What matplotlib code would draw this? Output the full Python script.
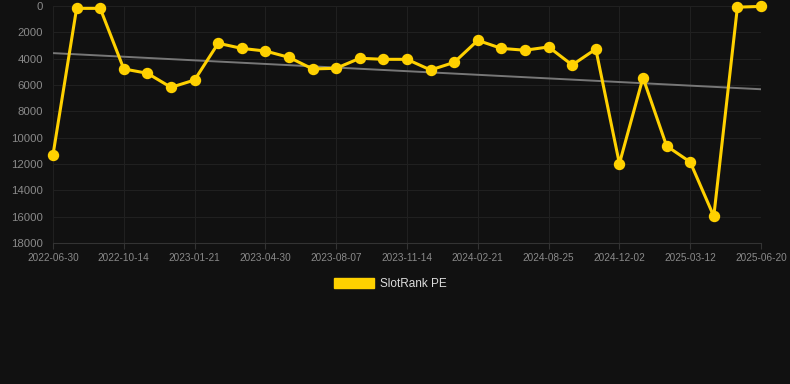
import numpy as np
import matplotlib
matplotlib.use("Agg")
import matplotlib.pyplot as plt
from matplotlib.patches import Patch

# rank values (lower is better, axis is reversed)
dates = ["2022-06-30", "", "", "2022-10-14", "", "", "2023-01-21", "", "",
         "2023-04-30", "", "", "2023-08-07", "", "", "2023-11-14", "", "",
         "2024-02-21", "", "", "2024-08-25", "", "", "2024-12-02", "", "",
         "2025-03-12", "", "", "2025-06-20"]
rank = [11300, 180, 180, 4780, 5110, 6180, 5620, 2830, 3220, 3420, 3900,
        4780, 4730, 3970, 4050, 4050, 4860, 4280, 2610, 3220, 3360, 3110,
        4480, 3270, 11970, 5440, 10630, 11850, 15970, 90, 30]
yticks = [0, 2000, 4000, 6000, 8000, 10000, 12000, 14000, 16000, 18000]

bg = "#111111"
gold = "#FFD100"

plt.rcParams["font.family"] = ["Liberation Sans", "DejaVu Sans"]
fig = plt.figure(figsize=(7.9, 3.84), dpi=100, facecolor=bg)
ax = fig.add_axes([53 / 790, 1 - 243 / 384, 708 / 790, 237 / 384], facecolor=bg)

x = np.arange(len(rank))
tick_idx = [i for i, d in enumerate(dates) if d]

# trend line (least squares fit)
coef = np.polyfit(x, rank, 1)
ax.plot(x, np.polyval(coef, x), color="#777777", lw=1.4, zorder=2)

ax.plot(x, rank, color=gold, lw=2.2, marker="o", markersize=7.2,
        markerfacecolor=gold, markeredgecolor=gold, zorder=3, clip_on=False)

ax.set_xlim(0, len(rank) - 1)
ax.set_ylim(18000, 0)
ax.set_yticks(yticks)
ax.set_yticklabels([str(v) for v in yticks])
ax.set_xticks(tick_idx)
ax.set_xticklabels([dates[i] for i in tick_idx])

ax.grid(True, color="#202020", lw=0.8, zorder=0)
for s in ["top", "right", "left"]:
    ax.spines[s].set_visible(False)
ax.spines["bottom"].set_color("#333333")
ax.tick_params(axis="y", length=0, pad=7, labelsize=8.2, labelcolor="#8a8a8a")
ax.tick_params(axis="x", length=4, color="#333333", pad=3, labelsize=7.2,
               labelcolor="#8a8a8a")

fig.legend(handles=[Patch(facecolor=gold, edgecolor=gold, label="SlotRank PE")],
           loc="center", bbox_to_anchor=(390 / 790, 1 - 284 / 384), frameon=False,
           fontsize=8.5, labelcolor="#dddddd", handlelength=3.4, handleheight=1.0,
           handletextpad=0.5)

fig.savefig("out.png", dpi=100, facecolor=bg)
